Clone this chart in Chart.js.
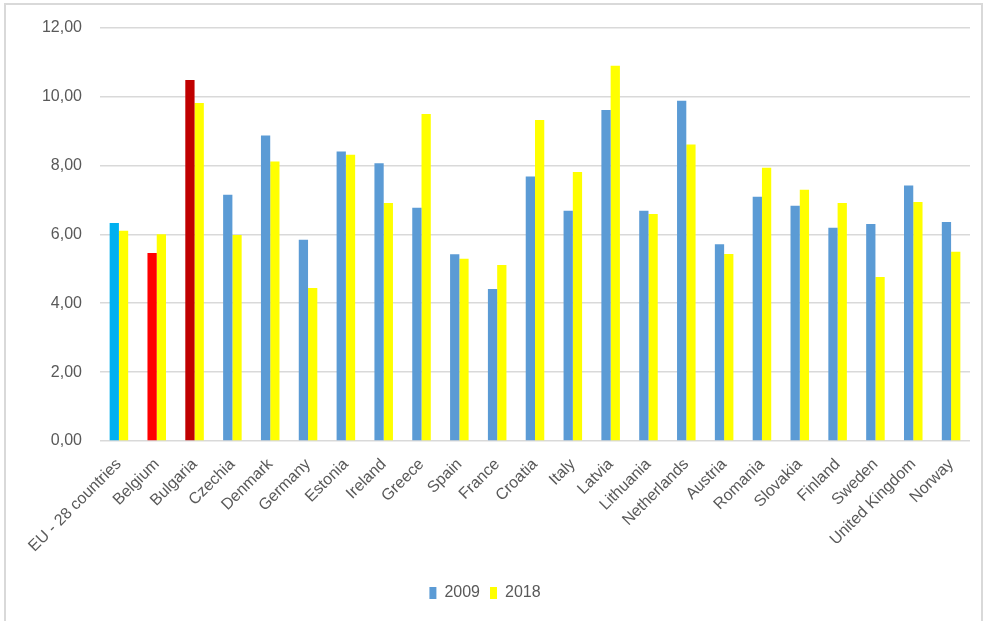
<!DOCTYPE html>
<html>
<head>
<meta charset="utf-8">
<script src="https://cdn.jsdelivr.net/npm/chart.js@4/dist/chart.umd.min.js"></script>
<style>
html,body{margin:0;padding:0;background:#fff;}
#wrap{position:absolute;left:0;top:0;width:986px;height:621px;}
</style>
</head>
<body>
<div id="wrap"><canvas id="c" width="986" height="621"></canvas></div>
<script>
const categories = ["EU - 28 countries","Belgium","Bulgaria","Czechia","Denmark","Germany","Estonia","Ireland","Greece","Spain","France","Croatia","Italy","Latvia","Lithuania","Netherlands","Austria","Romania","Slovakia","Finland","Sweden","United Kingdom","Norway"];
const seriesNames = ["2009","2018"];
const values2009 = [6.33,5.46,10.48,7.15,8.87,5.84,8.40,8.06,6.77,5.42,4.41,7.68,6.68,9.61,6.68,9.88,5.71,7.09,6.83,6.19,6.30,7.42,6.36];
const values2018 = [6.10,6.00,9.81,5.98,8.11,4.44,8.31,6.91,9.49,5.29,5.11,9.32,7.81,10.89,6.59,8.61,5.43,7.93,7.29,6.91,4.76,6.94,5.49];
const yTicks = [0,2,4,6,8,10,12];

const blue = "#5B9BD5", yellow = "#FFFF00";
const special = {"EU - 28 countries":"#00B0F0","Belgium":"#FF0000","Bulgaria":"#C00000"};
const colors2009 = categories.map(c => special[c] || blue);

const frame = {
  id:'frame',
  beforeDraw(chart){
    const ctx = chart.ctx;
    ctx.save();
    ctx.fillStyle = '#fff';
    ctx.fillRect(0,0,chart.width,chart.height);
    ctx.strokeStyle = '#d9d9d9';
    ctx.lineWidth = 2;
    ctx.strokeRect(5,4,977,640);
    ctx.restore();
  }
};

const FONT = "'Liberation Sans', Arial, sans-serif";
new Chart(document.getElementById('c'), {
  type:'bar',
  data:{
    labels:categories,
    datasets:[
      {label:seriesNames[0], data:values2009, backgroundColor:colors2009, borderWidth:0},
      {label:seriesNames[1], data:values2018, backgroundColor:yellow, borderWidth:0}
    ]
  },
  options:{
    responsive:false,
    animation:false,
    layout:{padding:{left:0,right:16,top:27,bottom:10}},
    datasets:{bar:{barPercentage:1.0,categoryPercentage:0.49}},
    scales:{
      x:{
        grid:{display:false},
        border:{display:false},
        ticks:{color:'#595959',font:{family:FONT,size:16},minRotation:45,maxRotation:45,autoSkip:false,padding:6},
        afterFit(s){ s.height = 134; }
      },
      y:{
        min:0,max:12,
        afterBuildTicks(s){ s.ticks = yTicks.map(v=>({value:v})); },
        grid:{color:'#d9d9d9',lineWidth:1.5,drawTicks:false},
        border:{display:false},
        ticks:{color:'#595959',font:{family:FONT,size:16},padding:18,
          callback:v=>Number(v).toFixed(2).replace('.',',')},
        afterFit(s){ s.width = 100; }
      }
    },
    plugins:{
      tooltip:{enabled:false},
      legend:{
        position:'bottom',
        labels:{
          color:'#595959',font:{family:FONT,size:16},boxWidth:7,boxHeight:12,padding:10,
          generateLabels(chart){
            return chart.data.datasets.map((d,i)=>({
              text:d.label,
              fillStyle:i===0?blue:yellow,
              strokeStyle:i===0?blue:yellow,
              lineWidth:0,
              hidden:false,
              datasetIndex:i,
              fontColor:'#595959'
            }));
          }
        }
      }
    }
  },
  plugins:[frame]
});
</script>
</body>
</html>
